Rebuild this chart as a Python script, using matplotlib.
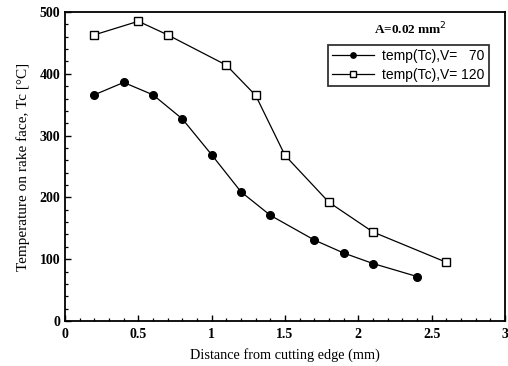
import matplotlib
matplotlib.use("Agg")
import matplotlib.pyplot as plt
from matplotlib.ticker import MultipleLocator

plt.rcParams['font.family'] = ['Liberation Serif', 'DejaVu Serif']

x_v70 = [0.2, 0.4, 0.6, 0.8, 1.0, 1.2, 1.4, 1.7, 1.9, 2.1, 2.4]
t_v70 = [366, 386, 366, 327, 269, 209, 171, 131, 110, 93, 72]
x_v120 = [0.2, 0.5, 0.7, 1.1, 1.3, 1.5, 1.8, 2.1, 2.6]
t_v120 = [463, 485, 463, 414, 365, 268, 192, 144, 95]
labels = ['temp(Tc),V=   70', 'temp(Tc),V= 120']
xticks = [0, 0.5, 1, 1.5, 2, 2.5, 3]
xticklabels = ['0', '0.5', '1', '1.5', '2', '2.5', '3']
yticks = [0, 100, 200, 300, 400, 500]
yticklabels = ['0', '100', '200', '300', '400', '500']

fig = plt.figure(figsize=(5.08, 3.66), dpi=100)
ax = fig.add_axes([65/508, 45/366, 440/508, 309/366])

ax.plot(x_v70, t_v70, '-', color='black', lw=0.9, marker='o', ms=5.5,
        mfc='black', mec='black', label=labels[0])
ax.plot(x_v120, t_v120, '-', color='black', lw=0.9, marker='s', ms=5.5,
        mfc='white', mec='black', mew=1.0, label=labels[1])

ax.set_xticks(xticks)
ax.set_xticklabels(xticklabels, fontweight='bold')
ax.set_yticks(yticks)
ax.set_yticklabels(yticklabels, fontweight='bold')
ax.xaxis.set_minor_locator(MultipleLocator(0.1))
ax.yaxis.set_minor_locator(MultipleLocator(20))
ax.set_xlim(0, 3)
ax.set_ylim(0, 500)
ax.tick_params(which='both', direction='in', top=False, right=False, labelsize=10)
ax.tick_params(which='major', length=4, width=1.0)
ax.tick_params(which='minor', length=2.5, width=0.9)
ax.tick_params(axis='x', pad=5)
for s in ax.spines.values():
    s.set_linewidth(1.3)

ax.set_xlabel('Distance from cutting edge (mm)', fontsize=10.3, labelpad=5)
ax.set_ylabel('Temperature on rake face, Tc [°C]', fontsize=11, labelpad=7)

ax.text(0.785, 0.945, 'A=0.02 mm$^2$', transform=ax.transAxes, ha='center',
        va='center', fontsize=9.5, fontweight='bold')
leg = ax.legend(loc='upper left', bbox_to_anchor=((328-65)/440, (321-45)/309),
                frameon=True, fancybox=False, edgecolor='black',
                prop={'family': ['Liberation Sans', 'DejaVu Sans'], 'size': 10},
                handlelength=3.0, markerscale=0.7, borderpad=0.3,
                labelspacing=0.35, handletextpad=0.6, borderaxespad=0)
leg.get_frame().set_linewidth(1.3)

fig.savefig('out.png', dpi=100)
